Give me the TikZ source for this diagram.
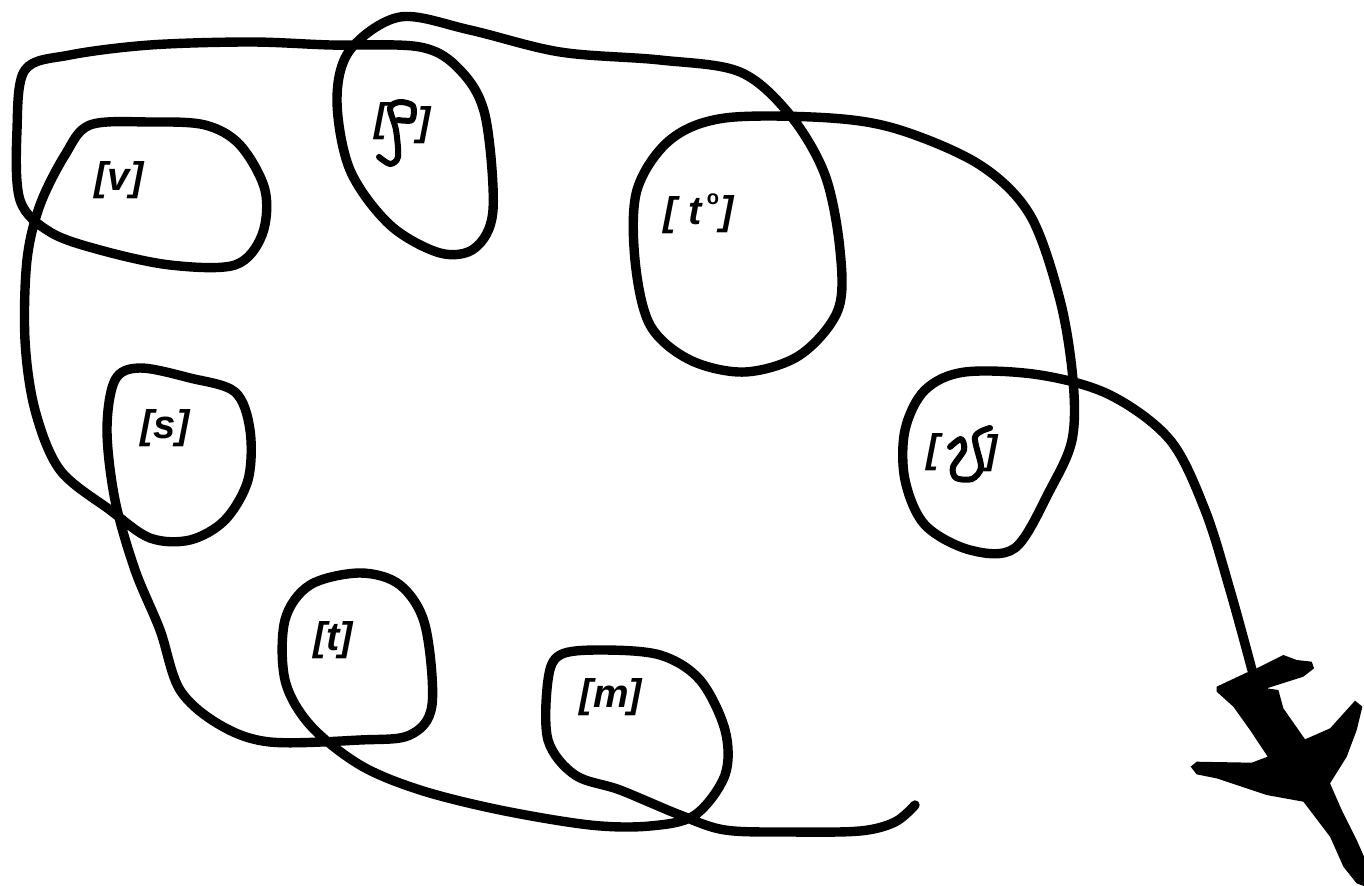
\documentclass[tikz,border=0pt]{standalone}
\usepackage{fontspec}
\setmainfont{Liberation Sans}
\tikzset{
 pen/.style={line width=4.7pt,line cap=round,line join=round,black},
 glyph/.style={line width=3pt,line cap=round,line join=round,black},
 lab/.style={inner sep=0pt,font=\fontsize{20}{20}\selectfont\itshape\bfseries},
 brk/.style={inner sep=0pt,font=\fontsize{20}{20}\selectfont\itshape\bfseries}
}
\begin{document}
\begin{tikzpicture}[x=0.5pt,y=-0.5pt]
\useasboundingbox (0,0) rectangle (1364,886);
\fill[white] (0,0) rectangle (1364,886);
\draw[pen] plot[smooth,tension=0.55] coordinates {(915,805)(895,822)(860,831)(790,832)(725,830)(680,815)(620,790)(575,775)(548,740)(548,680)(560,655)(600,650)(660,655)(700,680)(725,730)(725,775)(695,815)(650,826)(590,825)(500,810)(420,790)(360,765)(310,725)(285,680)(285,620)(310,585)(360,573)(400,585)(425,625)(432,705)(410,735)(360,740)(270,742)(220,725)(180,690)(160,630)(135,570)(115,500)(107,430)(115,380)(140,368)(190,378)(235,392)(250,430)(248,480)(225,520)(190,540)(150,538)(110,510)(60,470)(35,410)(25,340)(27,260)(40,205)(65,155)(90,125)(150,122)(205,125)(240,145)(265,190)(262,235)(235,265)(170,265)(100,250)(50,232)(20,200)(17,130)(25,70)(70,55)(150,45)(250,42)(330,45)(420,47)(460,70)(485,115)(493,210)(475,248)(440,253)(390,225)(350,170)(337,100)(350,50)(400,17)(470,30)(560,52)(660,60)(740,72)(790,115)(825,175)(840,250)(838,310)(800,355)(745,372)(690,360)(650,325)(635,260)(637,190)(670,140)(725,118)(830,118)(900,130)(980,165)(1030,215)(1060,300)(1073,380)(1072,440)(1050,490)(1015,548)(970,550)(925,525)(905,480)(905,430)(925,390)(965,372)(1040,375)(1110,395)(1170,440)(1205,510)(1230,590)(1252,670)};
% aeroplane
\fill[black,shift={(1170,640)},x=0.1667pt,y=-0.1667pt] (140,140)--(225,100)--(260,85)--(340,45)--(380,60)--(425,65)--(432,85)--(400,110)--(290,145)--(325,150)--(340,205)--(405,298)--(480,265)--(555,182)--(577,200)--(560,270)--(530,350)--(480,430)--(515,510)--(560,600)--(582,650)--(582,738)--(560,730)--(520,680)--(480,590)--(400,485)--(290,465)--(140,415)--(80,403)--(62,380)--(80,365)--(245,368)--(293,350)--(240,270)--(190,200)--(140,155)--cycle;
% labels
\node[lab] (v) at (119,180) {[v]};
\node[lab] (s) at (165,428) {[s]};
\node[lab] (t) at (333,640) {[t]};
\node[lab] (m) at (611,697) {[m]};
\node[brk] (tl) at (670,215) {[};
\node[lab] (tt) at (695,212) {t};
\node[inner sep=0pt,font=\fontsize{10}{10}\selectfont\bfseries] (to) at (713,199) {o};
\node[brk] (tr) at (727,214) {]};
\node[brk] (shl) at (381,121) {[};
\node[brk] (shr) at (424,125) {]};
\node[brk] (ssl) at (933,452) {[};
\node[brk] (ssr) at (991,453) {]};
\draw[glyph] plot[smooth,tension=0.5] coordinates {(398,120)(412,120)(413,106)(400,102)(390,108)(396,130)(398,157)(390,164)(379,157)};
\draw[glyph] plot[smooth,tension=0.5] coordinates {(950,447)(961,439)(964,450)(953,467)(956,478)(972,479)(981,467)(975,437)(990,428)};
\end{tikzpicture}
\end{document}
